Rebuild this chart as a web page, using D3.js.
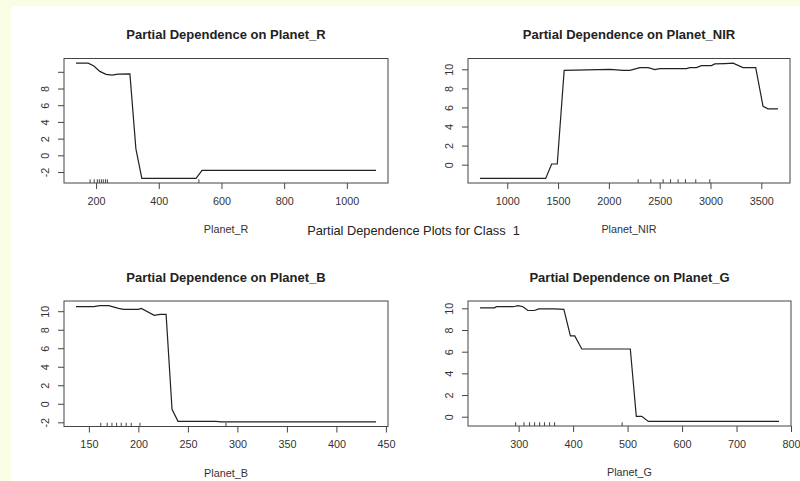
<!DOCTYPE html>
<html>
<head>
<script src="https://d3js.org/d3.v7.min.js"></script>
<style>
    body { margin: 0; background: #f8fde3; }
    svg { display: block; font-family: "Liberation Sans", Arial, sans-serif; }
    .tick text { fill: #333; font-size: 10.8px; }
    .tick line { stroke: #444; }
    .pd-line { fill: none; stroke: #222; stroke-width: 1.2; }
    .box { fill: none; stroke: #444; stroke-width: 1; }
    .rug { stroke: #444; stroke-width: 1; }
</style>
</head>
<body>
<svg id="chart" width="800" height="481"></svg>
<script>
// Planet_R
const rX = [136, 175, 193, 212, 232, 251, 270, 308, 327, 346, 519, 538, 1093];
const rY = [11.04, 11.04, 10.7, 10.05, 9.7, 9.6, 9.72, 9.75, 0.8, -2.76, -2.76, -1.8, -1.8];
const rRug = [181, 194, 204, 210.5, 217, 223, 230, 236, 528];
const rXTicks = [200, 400, 600, 800, 1000];
const rYTicks = [-2, 0, 2, 4, 6, 8, 10];
const rYLabels = ["-2", "0", "2", "4", "6", "8", ""];

// Planet_NIR
const nX = [731, 1378, 1437, 1492, 1560, 2010, 2141, 2206, 2305, 2387, 2452, 2501, 2764, 2796, 2862, 2911, 3010, 3042, 3140, 3222, 3320, 3445, 3517, 3566, 3665];
const nY = [-1.44, -1.44, 0.07, 0.07, 9.89, 10.0, 9.89, 9.89, 10.18, 10.18, 9.96, 10.07, 10.07, 10.18, 10.18, 10.39, 10.39, 10.56, 10.6, 10.65, 10.18, 10.18, 6.12, 5.85, 5.85];
const nRug = [2288, 2413, 2534, 2607, 2681, 2754, 2855, 2993];
const nXTicks = [1000, 1500, 2000, 2500, 3000, 3500];
const nYTicks = [0, 2, 4, 6, 8, 10];
const nYLabels = ["0", "2", "4", "6", "8", "10"];

// Planet_B
const bX = [137, 155, 161, 170, 180, 185, 200, 203, 216, 222, 228, 234, 240, 278, 284, 440];
const bY = [10.5, 10.5, 10.6, 10.6, 10.3, 10.2, 10.2, 10.3, 9.55, 9.65, 9.65, -0.6, -1.9, -1.9, -1.95, -1.95];
const bRug = [162, 168.5, 173.3, 178, 182.7, 187.7, 192.8, 201.6, 288.5];
const bXTicks = [150, 200, 250, 300, 350, 400, 450];
const bYTicks = [-2, 0, 2, 4, 6, 8, 10];
const bYLabels = ["-2", "0", "2", "4", "6", "8", "10"];

// Planet_G
const gX = [229, 256, 259, 290, 299, 308, 317, 329, 337, 366, 383, 395, 403, 416, 505, 516, 526, 538, 778];
const gY = [10.05, 10.05, 10.15, 10.15, 10.25, 10.15, 9.8, 9.8, 9.95, 9.95, 9.9, 7.45, 7.45, 6.25, 6.25, 0.03, 0.03, -0.43, -0.43];
const gRug = [294.5, 309.7, 320, 329.3, 338.5, 347.6, 356.8, 366, 490];
const gXTicks = [300, 400, 500, 600, 700, 800];
const gYTicks = [0, 2, 4, 6, 8, 10];
const gYLabels = ["0", "2", "4", "6", "8", "10"];

const panels = [
    { name: "Planet_R", xs: rX, ys: rY, rug: rRug, xTicks: rXTicks, yTicks: rYTicks, yLabels: rYLabels, left: 64, right: 388, top: 58.5, bottom: 183 },
    { name: "Planet_NIR", xs: nX, ys: nY, rug: nRug, xTicks: nXTicks, yTicks: nYTicks, yLabels: nYLabels, left: 468, right: 790, top: 58.5, bottom: 183 },
    { name: "Planet_B", xs: bX, ys: bY, rug: bRug, xTicks: bXTicks, yTicks: bYTicks, yLabels: bYLabels, left: 64, right: 388, top: 301, bottom: 426.5 },
    { name: "Planet_G", xs: gX, ys: gY, rug: gRug, xTicks: gXTicks, yTicks: gYTicks, yLabels: gYLabels, left: 468, right: 791, top: 301, bottom: 426 }
];

const svg = d3.select("#chart");

// white figure area
svg.append("rect")
    .attr("x", 11).attr("y", 6)
    .attr("width", 800).attr("height", 481)
    .attr("fill", "#fff");

// R style 4% padding on the data range
function padded(vals) {
    const [a, b] = d3.extent(vals);
    const d = (b - a) * 0.04;
    return [a - d, b + d];
}

panels.forEach(p => {
    const x = d3.scaleLinear().domain(padded(p.xs)).range([p.left, p.right]);
    const y = d3.scaleLinear().domain(padded(p.ys)).range([p.bottom, p.top]);
    const g = svg.append("g");

    // x axis
    const xa = g.append("g")
        .attr("transform", `translate(0,${p.bottom})`)
        .call(d3.axisBottom(x).tickValues(p.xTicks).tickFormat(d3.format("d")).tickSize(6).tickPadding(8).tickSizeOuter(0));
    xa.select(".domain").remove();

    // y axis, labels parallel to the axis
    const ya = g.append("g")
        .attr("transform", `translate(${p.left},0)`)
        .call(d3.axisLeft(y).tickValues(p.yTicks).tickFormat((d, i) => p.yLabels[i]).tickSize(6).tickSizeOuter(0));
    ya.select(".domain").remove();
    ya.selectAll(".tick text")
        .attr("transform", "rotate(-90)")
        .attr("x", 0)
        .attr("y", -15)
        .attr("dy", null)
        .attr("text-anchor", "middle");

    // rug
    g.selectAll(".rug")
        .data(p.rug)
        .enter()
        .append("line")
        .attr("class", "rug")
        .attr("x1", d => x(d)).attr("x2", d => x(d))
        .attr("y1", p.bottom).attr("y2", p.bottom - 0.03 * (p.bottom - p.top));

    // partial dependence line
    const line = d3.line().x(d => x(d[0])).y(d => y(d[1]));
    g.append("path")
        .datum(d3.zip(p.xs, p.ys))
        .attr("class", "pd-line")
        .attr("d", line);

    // box
    g.append("rect")
        .attr("class", "box")
        .attr("x", p.left).attr("y", p.top)
        .attr("width", p.right - p.left).attr("height", p.bottom - p.top);

    // title
    g.append("text")
        .attr("x", (p.left + p.right) / 2)
        .attr("y", p.top - 19.5)
        .attr("text-anchor", "middle")
        .attr("font-weight", "bold")
        .attr("font-size", "13px")
        .attr("fill", "#222")
        .text("Partial Dependence on " + p.name);

    // x label
    g.append("text")
        .attr("x", (p.left + p.right) / 2)
        .attr("y", p.bottom + 50)
        .attr("text-anchor", "middle")
        .attr("font-size", "10.8px")
        .attr("fill", "#333")
        .text(p.name);
});

svg.append("text")
    .attr("x", 413.5)
    .attr("y", 234.5)
    .attr("text-anchor", "middle")
    .attr("font-size", "12.8px")
    .attr("fill", "#222")
    .style("white-space", "pre")
    .text("Partial Dependence Plots for Class  1");
</script>
</body>
</html>
